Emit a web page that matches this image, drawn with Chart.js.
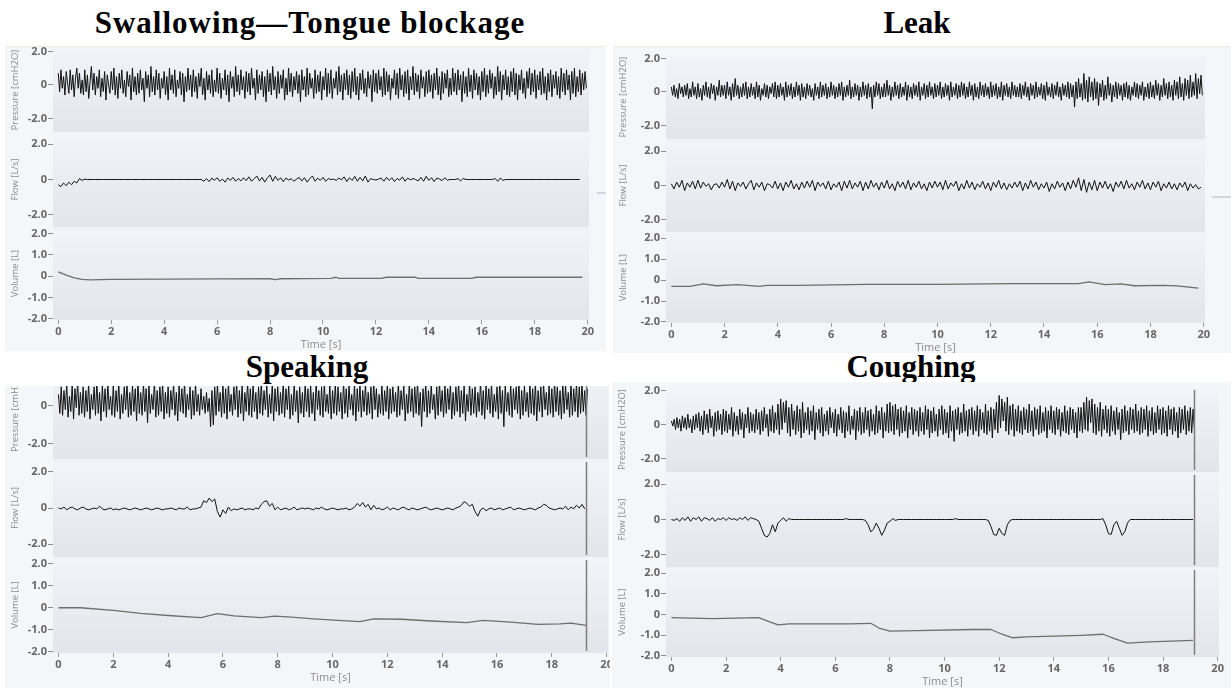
<!DOCTYPE html>
<html>
<head>
<meta charset="utf-8">
<title>Ventilator traces</title>
<script src="https://cdn.jsdelivr.net/npm/chart.js@4.4.1/dist/chart.umd.min.js"></script>
<style>
  html, body { margin: 0; padding: 0; background: #fff; }
  body { width: 1231px; height: 688px; position: relative; overflow: hidden; }
  .title {
    position: absolute; transform: translateX(-50%); white-space: nowrap; line-height: 1;
    font-family: "Liberation Serif", "Times New Roman", serif; font-weight: bold; font-size: 31px; color: #000;
  }
  .panel { position: absolute; background: #f4f7fa; overflow: hidden; }
  .panel.top { border-top: 1px solid #f2ecda; }
  .panel canvas { position: absolute; }
  .tab { position: absolute; height: 2px; background: #d3d6da; }
</style>
</head>
<body>
<div class="title" style="left:310px; top:7px; letter-spacing:1px;">Swallowing—Tongue blockage</div>
<div class="title" style="left:917px; top:7px;">Leak</div>
<div class="title" style="left:307px; top:351px;">Speaking</div>
<div class="title" style="left:911px; top:351px;">Coughing</div>

<div class="panel top" id="swallow"></div>
<div class="panel top" id="leak"></div>
<div class="panel" id="speak"></div>
<div class="panel" id="cough"></div>
<div class="tab" style="left:597px; top:192px; width:9px;"></div>
<div class="tab" style="left:1212px; top:196px; width:19px;"></div>

<script>
// sampling periods (s): pressure is logged twice as fast as flow
const pressureStep = 0.05;
const flowStep = 0.1;

const timeTicks = [0, 2, 4, 6, 8, 10, 12, 14, 16, 18, 20];
const pressureTicks = [2, 0, -2];
const flowTicks = [2, 0, -2];
const volumeTicks = [2, 1, 0, -1, -2];

// ---- Swallowing / tongue blockage ----
const swallowPressure = [
  .7,-.4,.9,-.2,.5,-.6,.8,.1,-.5,.9,-.3,.6,-.7,.4,1.0,-.2,.7,-.5,.3,-.6,
  .9,-.4,.6,-.8,.2,1.1,-.3,.7,-.6,.5,-.2,.9,-.7,.4,-.4,.8,-.9,.6,.0,-.5,
  .8,-.3,1.0,-.6,.5,-.8,.7,-.2,.9,-.5,.3,-.7,.8,-.1,.6,-.9,1.0,-.4,.5,-.6,
  .7,-.5,.9,-.3,.4,-1.0,.8,-.2,.6,-.7,1.1,-.4,.5,-.6,.9,-.3,.7,-.8,.4,-.2,
  .8,-.6,.5,-.9,1.0,-.3,.6,-.5,.9,-.7,.3,-.2,.8,-.6,.7,-1.0,.5,-.4,1.0,-.3,
  .6,-.7,.9,-.4,.5,-.8,.7,-.1,1.0,-.6,.4,-.9,.8,-.3,.6,-.5,.9,-.7,.3,-.4,
  1.0,-.5,.7,-.8,.4,-.3,.9,-.6,.6,-1.0,.8,-.2,.5,-.7,1.1,-.4,.6,-.6,.9,-.3,
  .5,-.8,.8,-.4,.7,-.6,1.0,-.2,.4,-.9,.9,-.5,.6,-.3,.8,-.7,.5,-1.0,.9,-.4,
  .7,-.6,1.1,-.3,.5,-.8,.8,-.5,.6,-.2,.9,-.9,.4,-.6,1.0,-.4,.7,-.7,.5,-.3,
  .8,-.5,.6,-1.0,.9,-.3,.5,-.7,1.0,-.6,.7,-.2,.4,-.8,.9,-.5,.6,-.4,.8,-.9,
  .5,-.3,1.0,-.7,.7,-.5,.9,-.8,.4,-.2,.8,-.6,1.1,-.4,.6,-.9,.7,-.3,.9,-.6,
  .6,-.8,.8,-.4,1.0,-.6,.5,-.9,.7,-.3,.9,-.5,.4,-.7,.8,-.2,.6,-1.0,.9,-.4,
  .7,-.5,.9,-.3,.5,-.7,1.0,-.6,.8,-.4,.6,-.9,.4,-.2,.9,-.6,.7,-.8,1.0,-.3,
  .6,-.7,.8,-.5,.9,-.9,.5,-.3,1.1,-.6,.7,-.4,.6,-.8,.9,-.2,.5,-.7,.8,-.5,
  .9,-.4,.6,-.8,.7,-.3,1.0,-.6,.5,-.9,.8,-.5,.7,-.2,.9,-.7,.4,-.6,1.0,-.4,
  .7,-.6,.9,-.3,.6,-1.0,.8,-.5,.5,-.7,1.0,-.4,.6,-.8,.9,-.3,.7,-.6,.5,-.9,
  .8,-.4,1.0,-.7,.6,-.5,.9,-.2,.7,-.8,.5,-.6,1.1,-.4,.8,-.9,.6,-.3,.9,-.6,
  .5,-.7,.8,-.4,1.0,-.6,.7,-.9,.6,-.3,.9,-.5,.4,-.8,.8,-.2,1.0,-.6,.7,-.4,
  .9,-.8,.6,-.3,.8,-.6,1.0,-.5,.5,-.9,.7,-.4,.9,-.7,.6,-.2,.8,-.6,.5,-.8,
  1.0,-.4,.7,-.6,.9,-.3,.6,-.9,.8,-.5,1.0,-.7,.5,-.4,.9,-.6,.7,-.3,.8,-.2
];
const swallowFlow = [
  -0.3,-0.4,-0.2,-0.35,-0.15,-0.3,-0.1,-0.2,0.05,-0.05,
  0.02,0,0,0,0,0,0,0,0,0,
  0,0,0,0,0,0,0,0,0,0,
  0,0,0,0,0,0,0,0,0,0,
  0,0,0,0,0,0,0,0,0,0,
  0,0,0,0,0,-0.1,0.05,-0.12,0.08,-0.05,
  0.1,-0.1,0.02,-0.15,0.08,-0.05,0.12,-0.1,0.06,-0.08,
  0.1,-0.06,0.15,-0.1,0.05,0.2,-0.08,0.12,-0.15,0.1,
  0.25,-0.1,0.18,-0.05,0.1,-0.12,0.08,-0.03,0.05,-0.1,
  0.02,0.12,-0.08,0.1,-0.15,0.05,0.2,-0.1,0.08,-0.05,
  0.12,-0.1,0.05,0,0.02,-0.05,0.08,-0.02,0.15,-0.12,
  0.1,-0.05,0.18,-0.1,0.12,-0.08,0.2,-0.15,0.05,0,
  -0.03,0.02,0.08,-0.1,0.12,-0.05,0.1,-0.12,0.06,-0.04,
  0.15,-0.1,0.08,-0.02,0.05,0,-0.08,0.12,-0.1,0.18,
  -0.05,0.1,-0.12,0.08,0.02,-0.06,0.1,-0.04,0,0,
  0,0.05,-0.08,0.06,0,0,0,0,0,0,
  0,0,0,0,0,0.06,-0.1,0.08,-0.05,0,
  0,0,0,0,0,0,0,0,0,0,
  0,0,0,0,0,0,0,0,0,0,
  0,0,0,0,0,0,0,0
];
const swallowVolT = [0, 0.3, 0.6, 0.9, 1.2, 2.0, 4.0, 6.0, 8.0, 8.2, 8.4, 10.3, 10.5, 10.6, 12.2, 12.4, 13.5, 13.6, 15.6, 15.8, 19.8];
const swallowVolV = [0.2, 0.05, -0.08, -0.15, -0.17, -0.15, -0.14, -0.13, -0.12, -0.16, -0.12, -0.1, -0.05, -0.1, -0.1, -0.05, -0.05, -0.1, -0.1, -0.05, -0.05];

// ---- Leak ----
const leakPressure = [
  .3,-.2,.4,-.3,.2,-.4,.5,-.1,.3,-.3,.4,-.2,.5,-.4,.2,-.3,.6,-.2,.3,-.4,
  .5,-.3,.2,-.5,.4,-.2,.6,-.3,.3,-.4,.5,-.1,.4,-.5,.3,-.2,.7,-.3,.4,-.2,
  .4,-.4,.6,-.2,.3,-.5,.5,-.3,.8,-.2,.4,-.4,.3,-.3,.5,-.2,.6,-.4,.3,-.3,
  .5,-.2,.3,-.4,.6,-.3,.4,-.5,.2,-.2,.5,-.3,.4,-.4,.3,-.1,.5,-.3,.6,-.4,
  .4,-.3,.5,-.2,.3,-.5,.6,-.3,.4,-.2,.5,-.4,.3,-.3,.6,-.2,.4,-.5,.5,-.3,
  .3,-.4,.5,-.2,.4,-.3,.2,-.5,.5,-.2,.3,-.4,.6,-.3,.4,-.2,.5,-.4,.3,-.3,
  .6,-.2,.4,-.4,.3,-.3,.5,-.2,.6,-.5,.3,-.3,.4,-.2,.7,-.4,.3,-.3,.5,-.2,
  .4,-.5,.3,-.3,.6,-.2,.4,-.4,.5,-.3,.3,-1.0,.4,-.3,.6,-.2,.5,-.4,.3,-.3,
  .5,-.3,.7,-.2,.4,-.5,.3,-.3,.6,-.2,.4,-.4,.5,-.3,.3,-.2,.6,-.5,.4,-.3,
  .3,-.4,.5,-.2,.4,-.3,.6,-.5,.3,-.2,.5,-.4,.4,-.3,.6,-.2,.3,-.4,.5,-.3,
  .4,-.2,.6,-.4,.3,-.3,.5,-.2,.4,-.5,.6,-.3,.3,-.2,.5,-.4,.4,-.3,.6,-.2,
  .5,-.4,.3,-.3,.6,-.2,.4,-.5,.5,-.3,.3,-.4,.6,-.2,.4,-.3,.5,-.2,.3,-.4,
  .6,-.3,.4,-.2,.5,-.4,.3,-.3,.6,-.5,.4,-.2,.5,-.3,.3,-.4,.6,-.2,.4,-.3,
  .3,-.3,.5,-.4,.4,-.2,.6,-.3,.3,-.5,.5,-.2,.4,-.4,.6,-.3,.3,-.2,.5,-.4,
  .4,-.5,.6,-.2,.3,-.3,.5,-.4,.4,-.2,.6,-.3,.3,-.5,.5,-.2,.4,-.3,.6,-.4,
  .5,-.3,.4,-.9,.6,-.4,.8,-.3,.5,-.5,1.1,-.4,.7,-.6,.9,-.3,.6,-.5,.8,-.4,
  .6,-.8,.5,-.3,.7,-.5,.4,-.4,.9,-.2,.5,-.6,.4,-.3,.6,-.4,.5,-.2,.4,-.5,
  .5,-.3,.6,-.4,.4,-.5,.3,-.2,.6,-.3,.5,-.4,.4,-.2,.6,-.5,.3,-.3,.5,-.4,
  .6,-.3,.4,-.4,.7,-.2,.5,-.5,.4,-.3,.8,-.2,.5,-.4,.6,-.3,.4,-.5,.7,-.2,
  .6,-.4,.9,-.3,.5,-.5,.8,-.2,.7,-.4,1.0,-.3,.6,-.2,1.1,-.4,.8,-.1,1.0,-.2
];
const leakFlow = [
  0.1,-0.2,0.2,-0.1,0.3,-0.3,0.15,-0.1,0.25,-0.2,
  0.3,-0.15,0.2,-0.05,0.1,-0.25,0.05,0.1,-0.15,0.2,
  -0.1,0.35,-0.2,0.25,-0.3,0.15,-0.05,0.2,-0.2,0.1,
  0.3,-0.25,0.15,-0.1,0.2,-0.3,0.1,0.05,-0.15,0.25,
  -0.2,0.15,-0.3,0.2,-0.1,0.3,-0.2,0.1,-0.25,0.2,
  -0.15,0.25,-0.1,0.3,-0.3,0.2,-0.05,0.15,-0.2,0.25,
  -0.25,0.1,-0.1,0.2,-0.3,0.25,-0.15,0.3,-0.2,0.15,
  -0.1,0.25,-0.3,0.2,-0.2,0.3,-0.1,0.15,-0.25,0.2,
  -0.15,0.3,-0.2,0.1,-0.3,0.25,-0.1,0.2,-0.2,0.3,
  -0.25,0.15,-0.1,0.25,-0.2,0.1,-0.3,0.2,-0.15,0.25,
  -0.1,0.2,-0.25,0.3,-0.2,0.15,-0.05,0.25,-0.3,0.1,
  -0.2,0.3,-0.15,0.2,-0.25,0.1,-0.1,0.25,-0.2,0.15,
  -0.3,0.2,-0.1,0.3,-0.2,0.15,-0.25,0.1,-0.15,0.2,
  -0.1,0.25,-0.3,0.15,-0.2,0.3,-0.1,0.2,-0.25,0.1,
  -0.15,0.2,-0.35,0.1,-0.2,0.25,-0.1,0.15,-0.3,0.2,
  -0.2,0.3,-0.1,0.45,-0.3,0.35,-0.4,0.2,-0.25,0.3,
  -0.3,0.2,-0.15,0.25,-0.2,0.1,-0.35,0.2,-0.1,0.25,
  -0.2,0.3,-0.15,0.1,-0.25,0.2,-0.1,0.3,-0.2,0.15,
  -0.25,0.2,-0.1,0.25,-0.3,0.1,-0.15,0.2,-0.2,0.1,
  -0.25,0.15,-0.1,0.2,-0.3,0.1,-0.15,0.05,-0.2,-0.1
];
const leakVolT = [0, 0.7, 1.2, 1.7, 2.5, 3.3, 3.6, 4.8, 7.3, 10, 12.8, 15.3, 15.7, 16.3, 16.9, 17.4, 18.5, 19.0, 19.8];
const leakVolV = [-0.3, -0.3, -0.18, -0.27, -0.22, -0.3, -0.25, -0.25, -0.2, -0.2, -0.17, -0.17, -0.08, -0.22, -0.18, -0.27, -0.25, -0.28, -0.38];

// ---- Speaking ----
const speakPressure = [
  .6,-.4,1.0,-.5,.8,-.2,1.2,-.6,.5,-.3,1.1,-.7,.9,-.1,1.3,-.5,.7,-.4,1.0,-.6,
  .8,-.3,1.2,-.7,.6,-.2,1.0,-.5,1.3,-.4,.7,-.8,1.1,-.3,.9,-.6,1.2,-.2,.5,-.5,
  1.1,-.6,.8,-.3,1.3,-.7,.6,-.4,1.0,-.2,1.2,-.6,.7,-.5,1.1,-.3,.9,-.8,1.3,-.4,
  .7,-.5,1.2,-.3,.9,-.9,1.1,-.4,.6,-.2,1.3,-.6,.8,-.5,1.0,-.3,1.2,-.7,.7,-.4,
  1.0,-.6,.8,-.2,1.2,-.5,.7,-.8,1.1,-.3,.9,-.4,1.3,-.6,.6,-.2,1.0,-.7,.8,-.5,
  1.2,-.3,.6,-.5,.9,-.2,.5,-.4,.7,-.3,.4,-1.1,.8,-1.0,1.0,-.5,1.2,-.3,.7,-.6,
  1.1,-.4,.9,-.7,1.3,-.3,.6,-.5,1.0,-.2,1.2,-.6,.8,-.4,1.1,-.8,.7,-.3,1.3,-.5,
  .9,-.6,1.2,-.3,.7,-.7,1.0,-.4,1.3,-.5,.8,-.2,1.1,-.6,.6,-.4,1.2,-.8,.9,-.3,
  1.0,-.5,.7,-.4,1.3,-.6,.9,-.2,1.1,-.7,.6,-.5,1.2,-.3,.8,-.9,1.0,-.4,.7,-.6,
  1.2,-.3,.9,-.6,1.1,-.4,.7,-.8,1.3,-.2,.8,-.5,1.0,-.6,1.2,-.3,.6,-.4,1.1,-.7,
  .8,-.4,1.2,-.5,1.0,-.3,.7,-.7,1.3,-.4,.9,-.6,1.1,-.2,.6,-.5,1.2,-.8,.9,-.3,
  1.1,-.6,.8,-.3,1.2,-.5,.7,-.4,1.0,-.7,1.3,-.2,.9,-.6,.6,-.4,1.1,-.5,.8,-.3,
  1.2,-.7,.9,-.4,1.0,-.3,.7,-.6,1.3,-.5,.8,-.2,1.1,-.8,.6,-.4,1.2,-.3,.9,-.6,
  1.0,-.4,1.3,-.5,.7,-1.1,.9,-.3,1.2,-.6,.8,-.4,1.1,-.2,.6,-.7,1.0,-.5,1.3,-.3,
  .8,-.6,1.1,-.4,.9,-.2,1.2,-.7,.7,-.5,1.0,-.3,1.3,-.6,.8,-.4,1.1,-.8,.6,-.3,
  1.2,-.5,.9,-.4,1.0,-.6,.7,-.3,1.3,-.5,.8,-.7,1.1,-.2,.9,-.4,1.2,-.6,.6,-.3,
  1.0,-.7,1.3,-.4,.8,-1.1,1.1,-.3,.7,-.5,1.2,-.6,.9,-.2,1.0,-.4,1.3,-.7,.8,-.5,
  1.1,-.3,.7,-.6,1.2,-.4,.9,-.5,1.3,-.8,.8,-.3,1.0,-.6,1.2,-.2,.7,-.5,1.1,-.4,
  .9,-.6,1.3,-.3,1.0,-.5,.8,-.7,1.2,-.4,1.1,-.2,.7,-.6,1.3,-.5,.9,-.3,1.2,-.6,
  1.0,-.4,1.2,-.3,.8,-.5,.9
];
const speakFlow = [
  0,-0.05,0.05,-0.1,0,0.05,-0.05,-0.1,0,0.05,
  -0.05,-0.1,-0.05,0,-0.05,0.1,-0.05,-0.1,-0.05,0,
  -0.1,-0.05,-0.1,-0.05,0,-0.05,-0.1,-0.05,0,-0.05,
  -0.1,-0.05,0,-0.05,-0.1,-0.05,0,-0.05,-0.1,-0.05,
  -0.05,0,-0.05,-0.1,0,-0.05,-0.05,0.05,-0.1,-0.05,
  -0.05,0,0.05,0.4,0.3,0.55,0.35,0.5,-0.2,-0.5,
  -0.1,-0.3,0.05,-0.15,-0.05,-0.1,-0.05,0,-0.1,-0.05,
  -0.05,-0.1,0,-0.05,0.2,0.35,0.4,0.1,0.25,-0.1,
  0.05,-0.1,-0.05,0,-0.1,-0.05,0.05,-0.1,-0.05,0,
  -0.05,0,-0.05,-0.1,0,-0.05,0.05,-0.05,-0.1,-0.05,
  0,-0.05,-0.1,-0.05,-0.05,0,-0.1,-0.05,0.05,0.25,
  0.1,0.3,0.05,0.2,-0.1,0.15,-0.05,0,-0.1,-0.05,
  0.05,-0.1,0,-0.05,-0.1,0,0.05,-0.05,-0.1,0,
  -0.05,-0.1,-0.05,0,0.05,-0.05,-0.1,-0.05,0,-0.05,
  -0.1,-0.05,0,-0.05,-0.1,0,0.05,0.15,0.35,0.25,
  0.1,0.2,-0.2,-0.45,-0.1,0,-0.15,-0.05,0,-0.1,
  -0.05,0,-0.1,-0.05,0,0.05,-0.1,-0.05,0,-0.05,
  -0.1,-0.05,0,-0.05,-0.1,0,0.05,0.2,0.15,0,
  -0.05,-0.1,-0.05,0,-0.05,0.1,-0.1,0.05,-0.05,0.15,
  0,0.2,-0.05
];
const speakVolT = [0, 0.8, 2, 3, 4, 5.2, 5.8, 6.4, 7.4, 7.9, 8.5, 9.3, 10.2, 11.0, 11.5, 12.5, 13.6, 14.9, 15.5, 16.5, 17.5, 18.3, 18.7, 19.25];
const speakVolV = [0, 0, -0.12, -0.25, -0.35, -0.45, -0.27, -0.37, -0.45, -0.38, -0.42, -0.5, -0.57, -0.63, -0.5, -0.52, -0.6, -0.67, -0.57, -0.65, -0.75, -0.73, -0.7, -0.8];

// ---- Coughing ----
const coughPressure = [
  .2,-.1,.3,-.3,.4,-.2,.3,-.4,.5,-.2,.4,-.3,.6,-.2,.3,-.5,.5,-.3,.6,-.2,
  .7,-.4,.5,-.6,.8,-.3,.6,-.5,.9,-.2,.5,-.7,.7,-.4,.8,-.3,.6,-.6,.9,-.4,
  .8,-.5,.6,-.3,1.0,-.7,.7,-.4,.5,-.6,.9,-.3,.7,-.8,.6,-.2,1.0,-.5,.7,-.4,
  .6,-.5,.9,-.3,.7,-.6,.8,-.4,1.0,-.2,.6,-.7,.9,-.4,1.1,-.5,.7,-.3,1.2,-.6,
  1.5,-.3,1.3,.1,1.4,-.5,1.0,-.7,1.2,-.3,.8,-.6,1.1,-.4,.9,-.8,1.3,-.5,.7,-.3,
  1.0,-.6,.8,-.4,1.1,-.9,.7,-.3,.9,-.5,1.0,-.7,.6,-.4,.8,-.6,1.0,-.2,.7,-.5,
  .9,-.7,.6,-.3,1.0,-.5,.8,-.8,.7,-.4,1.1,-.6,.5,-.3,.9,-.9,.8,-.4,1.0,-.6,
  .7,-.5,1.0,-.3,.8,-.7,.9,-.4,.6,-.6,1.1,-.5,.8,-.3,1.0,-.8,.7,-.4,1.2,-.5,
  1.3,-.4,1.1,-.6,1.2,-.3,.9,-.7,1.0,-.5,.8,-.4,1.1,-.8,.7,-.3,1.0,-.6,.9,-.4,
  .8,-.7,1.0,-.4,.7,-.6,1.1,-.3,.9,-.8,.8,-.5,1.0,-.4,.6,-.7,.9,-.3,1.1,-.6,
  .9,-.5,.7,-.8,1.1,-.4,.8,-1.0,.9,-.3,1.0,-.6,.7,-.5,1.2,-.4,.8,-.7,.9,-.3,
  1.0,-.6,.8,-.4,1.1,-.7,.9,-.3,.7,-.5,1.2,-.6,.8,-.4,1.0,-.8,.9,-.3,1.3,-.5,
  1.7,-.2,1.5,.2,1.3,-.4,1.6,-.6,1.1,-.3,1.2,-.7,.9,-.4,1.1,-.5,.8,-.6,1.0,-.3,
  .9,-.5,1.2,-.4,.8,-.7,1.0,-.3,.9,-.6,1.1,-.5,.7,-.4,1.0,-.8,.8,-.3,1.1,-.5,
  .8,-.6,1.0,-.3,.9,-.7,.7,-.4,1.1,-.5,.8,-.6,1.0,-.3,.9,-.5,.7,-.8,1.0,-.4,
  1.0,-.5,1.3,-.3,1.6,-.4,1.4,.1,1.5,-.5,1.2,-.6,1.0,-.4,1.3,-.7,.9,-.3,1.1,-.5,
  .9,-.7,1.1,-.4,.8,-.6,1.0,-.3,.7,-.9,.9,-.5,1.1,-.4,.8,-.6,1.0,-.3,.9,-.5,
  1.2,-.4,.8,-.6,1.0,-.5,.9,-.3,1.1,-.7,.8,-.4,1.0,-.6,.7,-.5,1.1,-.3,.9,-.6,
  1.0,-.5,.8,-.7,1.1,-.3,.9,-.6,1.0,-.4,.7,-.8,1.0,-.5,.9,-.3,1.1,-.6,.8,-.4,
  1.0,-.5,.9,-.3
];
const coughFlow = [
  0,-0.05,0.05,-0.1,0.1,-0.05,0.15,-0.1,0.1,0,
  0.15,-0.1,0.1,0.05,-0.05,0.1,-0.1,0.05,0,0.1,
  -0.05,0.1,0,0.05,-0.05,0.1,0,0.15,-0.05,0.1,
  0.05,0,-0.1,-0.5,-0.9,-1.0,-0.8,-0.3,-0.7,-0.2,
  -0.05,0.1,-0.1,0.05,0,0,0,0,0,0,
  0,0,0,0,0,0,0,0,0,0,
  0,0,0,0,0.05,0,0,0,0,0,
  0,-0.05,-0.3,-0.7,-0.55,-0.2,-0.5,-0.9,-0.6,-0.2,
  -0.1,0.05,-0.05,0,0,0,0,0,0,0,
  0,0,0,0,0,0,0,0,0,0,
  0,0,0,0,0.05,0,0,0,0,0,
  0,0,0,0,0,0,-0.05,-0.4,-0.85,-0.9,
  -0.5,-0.8,-0.9,-0.3,-0.05,0,0,0,0,0,
  0,0,0,0,0,0,0,0,0,0,
  0,0,0,0,0,0,0,0,0,0,
  0,0,0,0,0,0,0,0,0.05,-0.3,
  -0.8,-0.85,-0.3,-0.1,-0.5,-0.9,-0.7,-0.2,0,0,
  0,0,0,0,0,0,0,0,0,0,
  0,0,0,0,0,0,0,0,0,0,
  0,0
];
const coughVolT = [0, 1.5, 3.2, 3.5, 3.9, 4.3, 6.5, 7.3, 7.6, 8.0, 9.0, 11.0, 11.7, 12.1, 12.5, 13.0, 15.0, 15.8, 16.2, 16.7, 17.5, 19.1];
const coughVolV = [-0.15, -0.2, -0.15, -0.3, -0.5, -0.45, -0.45, -0.42, -0.65, -0.8, -0.78, -0.72, -0.72, -0.95, -1.12, -1.08, -1.0, -0.95, -1.15, -1.38, -1.32, -1.25];

// position of the review cursor (s), where the recording stops
const speakCursor = 19.25;
const coughCursor = 19.15;

function sampled(values, step) {
  return values.map((v, i) => ({ x: i * step, y: v }));
}
function paired(times, values) {
  return times.map((t, i) => ({ x: t, y: values[i] }));
}

Chart.defaults.font.family = "'Open Sans', 'DejaVu Sans', sans-serif";

const traceDefs = [
  { title: 'Pressure [cmH2O]', min: -2.8, max: 2.2, ticks: pressureTicks, color: '#111', width: 1 },
  { title: 'Flow [L/s]', min: -2.7, max: 2.7, ticks: flowTicks, color: '#111', width: 1 },
  { title: 'Volume [L]', min: -2.05, max: 2.3, ticks: volumeTicks, color: '#6e6e6e', width: 1.3 }
];

// page layout of each panel: outer rect, plot edges and the three plot bands
const panels = [
  { id: 'swallow', rect: [5, 46, 601, 304], plotLeft: 53, plotRight: 589,
    bands: [[47, 131], [131, 226], [226, 319]], cursor: null,
    series: [sampled(swallowPressure, pressureStep), sampled(swallowFlow, flowStep), paired(swallowVolT, swallowVolV)] },
  { id: 'leak', rect: [613, 46, 618, 306], plotLeft: 666, plotRight: 1205,
    bands: [[54, 138], [138, 231], [231, 322]], cursor: null,
    series: [sampled(leakPressure, pressureStep), sampled(leakFlow, flowStep), paired(leakVolT, leakVolV)] },
  { id: 'speak', rect: [5, 386, 605, 302], plotLeft: 53, plotRight: 608,
    bands: [[364, 459], [459, 557], [557, 653]], cursor: speakCursor,
    series: [sampled(speakPressure, pressureStep), sampled(speakFlow, flowStep), paired(speakVolT, speakVolV)] },
  { id: 'cough', rect: [612, 382, 619, 306], plotLeft: 666, plotRight: 1219,
    bands: [[387, 472], [472, 567], [567, 657]], cursor: coughCursor,
    series: [sampled(coughPressure, pressureStep), sampled(coughFlow, flowStep), paired(coughVolT, coughVolV)] }
];

// shaded plot band, light at the top and darker towards the bottom
const plotBackground = {
  id: 'plotBackground',
  beforeDraw(chart) {
    const { ctx, chartArea: a } = chart;
    const g = ctx.createLinearGradient(0, a.top, 0, a.bottom);
    g.addColorStop(0, '#f1f4f8');
    g.addColorStop(1, '#e2e5e9');
    ctx.save();
    ctx.fillStyle = g;
    ctx.fillRect(a.left, a.top, a.width, a.height);
    ctx.restore();
  }
};

const cursorLine = {
  id: 'cursorLine',
  afterDatasetsDraw(chart, args, opts) {
    if (opts.value == null) return;
    const { ctx, chartArea: a, scales } = chart;
    const x = Math.round(scales.x.getPixelForValue(opts.value)) + 0.5;
    ctx.save();
    ctx.strokeStyle = '#7d7d7d';
    ctx.lineWidth = 1.5;
    ctx.beginPath();
    ctx.moveTo(x, a.top + 3);
    ctx.lineTo(x, a.bottom - 2);
    ctx.stroke();
    ctx.restore();
  }
};

const padTop = 12, padBottom = 12, padRight = 16, xAxisHeight = 32;

panels.forEach(panel => {
  const box = document.getElementById(panel.id);
  const [pl, pt, pw, ph] = panel.rect;
  box.style.left = pl + 'px';
  box.style.top = pt + 'px';
  box.style.width = pw + 'px';
  box.style.height = ph + 'px';

  traceDefs.forEach((def, k) => {
    const [top, bottom] = panel.bands[k];
    const last = k === traceDefs.length - 1;
    const canvas = document.createElement('canvas');
    const w = panel.plotRight - pl + padRight;
    const h = padTop + (bottom - top) + (last ? xAxisHeight : padBottom);
    canvas.width = w;
    canvas.height = h;
    canvas.style.width = w + 'px';
    canvas.style.height = h + 'px';
    canvas.style.left = '0px';
    canvas.style.top = (top - padTop - pt) + 'px';
    box.appendChild(canvas);

    new Chart(canvas, {
      type: 'line',
      data: {
        datasets: [{
          data: panel.series[k],
          borderColor: def.color,
          borderWidth: def.width,
          borderJoinStyle: 'round',
          pointRadius: 0,
          tension: 0,
          fill: false
        }]
      },
      options: {
        responsive: false,
        animation: false,
        events: [],
        layout: { padding: { top: padTop, bottom: last ? 0 : padBottom, left: 0, right: padRight } },
        plugins: {
          legend: { display: false },
          tooltip: { enabled: false },
          cursorLine: { value: panel.cursor }
        },
        scales: {
          x: {
            type: 'linear',
            min: -0.2,
            max: 20.05,
            display: last,
            afterBuildTicks: s => { s.ticks = timeTicks.map(v => ({ value: v })); },
            afterFit: s => { s.height = last ? xAxisHeight : 0; },
            border: { display: false },
            grid: { drawOnChartArea: false, drawTicks: true, tickLength: 4, tickColor: '#9a9a9a' },
            ticks: { padding: 1, color: '#666', font: { size: 11, weight: 'bold' }, maxRotation: 0 },
            title: { display: true, text: 'Time [s]', color: '#8a8a8a', font: { size: 11 }, padding: { top: 0, bottom: 1 } }
          },
          y: {
            min: def.min,
            max: def.max,
            afterBuildTicks: s => { s.ticks = def.ticks.map(v => ({ value: v })); },
            afterFit: s => { s.width = panel.plotLeft - pl; },
            border: { display: false },
            grid: { drawOnChartArea: false, drawTicks: true, tickLength: 5, tickColor: '#8c8c8c' },
            ticks: {
              padding: 1,
              color: '#666',
              font: { size: 11, weight: 'bold' },
              callback: v => (v === 0 ? '0' : v.toFixed(1))
            },
            title: { display: true, text: def.title, color: '#8a8a8a', font: { size: 9.5 }, padding: { top: 5, bottom: 2 } }
          }
        }
      },
      plugins: [plotBackground, cursorLine]
    });
  });
});
</script>
</body>
</html>
